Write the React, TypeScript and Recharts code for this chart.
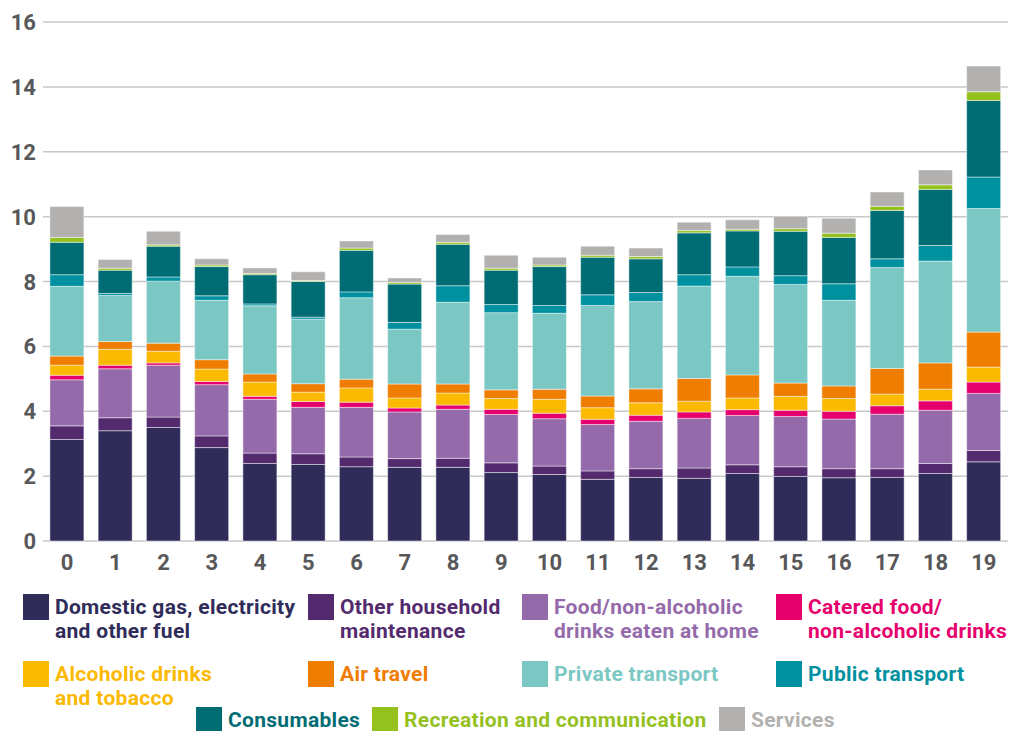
import React from 'react'
import { BarChart, Bar, XAxis, YAxis, CartesianGrid } from 'recharts'

const categories = ['0', '1', '2', '3', '4', '5', '6', '7', '8', '9', '10', '11', '12', '13', '14', '15', '16', '17', '18', '19']

const domestic = [3.13, 3.40, 3.50, 2.88, 2.39, 2.36, 2.29, 2.27, 2.27, 2.11, 2.05, 1.90, 1.96, 1.93, 2.08, 1.99, 1.95, 1.96, 2.08, 2.44]
const household = [0.42, 0.40, 0.32, 0.36, 0.32, 0.33, 0.30, 0.27, 0.28, 0.30, 0.26, 0.26, 0.27, 0.32, 0.27, 0.30, 0.28, 0.27, 0.31, 0.35]
const food = [1.42, 1.51, 1.60, 1.58, 1.66, 1.43, 1.53, 1.44, 1.51, 1.49, 1.46, 1.43, 1.46, 1.53, 1.52, 1.55, 1.53, 1.68, 1.64, 1.76]
const catered = [0.14, 0.11, 0.07, 0.10, 0.09, 0.18, 0.16, 0.12, 0.13, 0.16, 0.17, 0.16, 0.19, 0.20, 0.18, 0.19, 0.24, 0.26, 0.29, 0.35]
const alcohol = [0.31, 0.49, 0.36, 0.38, 0.44, 0.29, 0.44, 0.31, 0.37, 0.33, 0.43, 0.36, 0.38, 0.33, 0.36, 0.43, 0.39, 0.36, 0.36, 0.46]
const air = [0.28, 0.24, 0.25, 0.29, 0.25, 0.26, 0.27, 0.43, 0.28, 0.27, 0.31, 0.36, 0.43, 0.70, 0.71, 0.41, 0.39, 0.79, 0.81, 1.08]
const privateTransport = [2.15, 1.42, 1.91, 1.83, 2.10, 1.99, 2.51, 1.69, 2.52, 2.38, 2.34, 2.79, 2.69, 2.85, 3.04, 3.04, 2.64, 3.11, 3.14, 3.81]
const publicTransport = [0.36, 0.06, 0.13, 0.14, 0.06, 0.06, 0.18, 0.21, 0.51, 0.25, 0.24, 0.33, 0.28, 0.35, 0.29, 0.27, 0.51, 0.27, 0.48, 0.97]
const consumables = [1.00, 0.72, 0.95, 0.90, 0.90, 1.10, 1.28, 1.18, 1.28, 1.06, 1.20, 1.16, 1.04, 1.29, 1.11, 1.37, 1.43, 1.49, 1.73, 2.36]
const recreation = [0.15, 0.06, 0.04, 0.05, 0.04, 0.03, 0.07, 0.05, 0.06, 0.06, 0.05, 0.06, 0.07, 0.07, 0.05, 0.08, 0.13, 0.13, 0.14, 0.27]
const services = [0.95, 0.27, 0.42, 0.19, 0.17, 0.27, 0.22, 0.14, 0.24, 0.40, 0.24, 0.28, 0.26, 0.26, 0.29, 0.38, 0.46, 0.44, 0.46, 0.79]

const yTicks = [0, 2, 4, 6, 8, 10, 12, 14, 16]

// bottom to top
const SERIES = [
  { key: 'domestic', values: domestic, color: '#302c5a', label: ['Domestic gas, electricity', 'and other fuel'] },
  { key: 'household', values: household, color: '#532a6e', label: ['Other household', 'maintenance'] },
  { key: 'food', values: food, color: '#956aaa', label: ['Food/non-alcoholic', 'drinks eaten at home'] },
  { key: 'catered', values: catered, color: '#e6006e', label: ['Catered food/', 'non-alcoholic drinks'] },
  { key: 'alcohol', values: alcohol, color: '#fbb900', label: ['Alcoholic drinks', 'and tobacco'] },
  { key: 'air', values: air, color: '#ef7d00', label: ['Air travel'] },
  { key: 'private', values: privateTransport, color: '#7bc7c3', label: ['Private transport'] },
  { key: 'public', values: publicTransport, color: '#0091a0', label: ['Public transport'] },
  { key: 'consumables', values: consumables, color: '#006d75', label: ['Consumables'] },
  { key: 'recreation', values: recreation, color: '#95c11f', label: ['Recreation and communication'] },
  { key: 'services', values: services, color: '#b2b1af', label: ['Services'] },
]

// legend placement (square left/top), same order as SERIES
const LEGEND_POS: Record<string, [number, number]> = {
  domestic: [23, 594], household: [308, 594], food: [522, 594], catered: [776, 594],
  alcohol: [23, 661], air: [308, 661], private: [522, 661], public: [776, 661],
  consumables: [196, 707], recreation: [372, 707], services: [719, 707],
}

const FONT = 'Roboto, "Noto Sans", sans-serif'
const TICK = '#58585a'

const data = categories.map((c, i) => {
  const row: Record<string, any> = { name: c }
  SERIES.forEach((s) => { row[s.key] = s.values[i] })
  return row
})

const YTick = (props: any) => (
  <text x={36} y={props.y} dy={8} textAnchor="end" fill={TICK} fontSize={22} fontWeight={700} fontFamily={FONT}>
    {props.payload.value}
  </text>
)

const XTick = (props: any) => (
  <text x={props.x} y={570} textAnchor="middle" fill={TICK} fontSize={22} fontWeight={700} fontFamily={FONT}>
    {props.payload.value}
  </text>
)

export default function App() {
  return (
    <div style={{ position: 'absolute', left: 0, top: 0, width: 1011, height: 731, background: '#fff', fontFamily: FONT }}>
      <BarChart width={1011} height={585} data={data} margin={{ top: 22, right: 3, left: 0, bottom: 5 }} barCategoryGap="14.3%">
        <CartesianGrid vertical={false} stroke="#c8c8c8" strokeWidth={1.5} />
        <XAxis dataKey="name" height={39} axisLine={false} tickLine={false} interval={0} tick={<XTick />} />
        <YAxis width={43} domain={[0, 16]} ticks={yTicks} axisLine={false} tickLine={false} tick={<YTick />} />
        {SERIES.map((s) => (
          <Bar key={s.key} dataKey={s.key} stackId="a" fill={s.color} stroke="rgba(255,255,255,0.45)" strokeWidth={1} isAnimationActive={false} />
        ))}
      </BarChart>
      {SERIES.map((s) => {
        const [lx, ly] = LEGEND_POS[s.key]
        return (
          <React.Fragment key={s.key}>
            <div style={{ position: 'absolute', left: lx, top: ly, width: 26, height: 26, background: s.color }} />
            <div style={{ position: 'absolute', left: lx + 32, top: ly + 1, color: s.color, fontSize: 21, lineHeight: '24px', letterSpacing: 0.3, fontWeight: 700, whiteSpace: 'nowrap' }}>
              {s.label.map((l, i) => <div key={i}>{l}</div>)}
            </div>
          </React.Fragment>
        )
      })}
    </div>
  )
}
